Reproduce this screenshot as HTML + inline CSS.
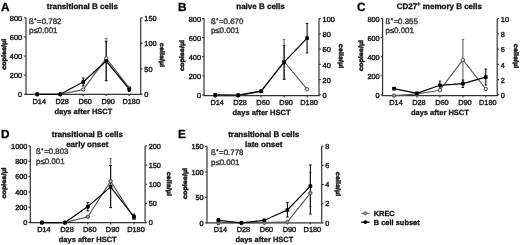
<!DOCTYPE html>
<html><head><meta charset="utf-8"><style>
html,body{margin:0;padding:0;background:#fff;}
body{width:520px;height:245px;overflow:hidden;}
svg{display:block;font-family:"Liberation Sans", sans-serif;filter:blur(0.5px);text-rendering:geometricPrecision;}
</style></head><body>
<svg width="520" height="245" viewBox="0 0 520 245">
<rect width="520" height="245" fill="#fff"/>
<text x="1.0" y="10.5" font-size="11.8" font-weight="bold" text-anchor="start" fill="#000" stroke="#000" stroke-width="0.3" >A</text>
<text x="82.3" y="9.25" font-size="8.0" font-weight="bold" text-anchor="middle" fill="#111" stroke="#111" stroke-width="0.3" >transitional B cells</text>
<text x="29.0" y="24.2" font-size="7.9" font-weight="normal" text-anchor="start" fill="#383838" stroke="#383838" stroke-width="0.4" >ß<tspan font-size="5.5" dx="0.4" dy="-2.3">*</tspan><tspan dx="0.7" dy="2.3">=0.782</tspan></text>
<text x="29.0" y="32.8" font-size="7.9" font-weight="normal" text-anchor="start" fill="#383838" stroke="#383838" stroke-width="0.4" >p≤0.001</text>
<line x1="26.0" y1="17.8" x2="26.0" y2="94.3" stroke="#333333" stroke-width="1.2"/>
<line x1="24.2" y1="94.3" x2="26.0" y2="94.3" stroke="#333333" stroke-width="1.2"/>
<text x="22.1" y="97.0" font-size="7.35" font-weight="normal" text-anchor="end" fill="#1a1a1a" stroke="#1a1a1a" stroke-width="0.4" >0</text>
<line x1="24.2" y1="75.17" x2="26.0" y2="75.17" stroke="#333333" stroke-width="1.2"/>
<text x="22.1" y="77.87" font-size="7.35" font-weight="normal" text-anchor="end" fill="#1a1a1a" stroke="#1a1a1a" stroke-width="0.4" >200</text>
<line x1="24.2" y1="56.05" x2="26.0" y2="56.05" stroke="#333333" stroke-width="1.2"/>
<text x="22.1" y="58.75" font-size="7.35" font-weight="normal" text-anchor="end" fill="#1a1a1a" stroke="#1a1a1a" stroke-width="0.4" >400</text>
<line x1="24.2" y1="36.92" x2="26.0" y2="36.92" stroke="#333333" stroke-width="1.2"/>
<text x="22.1" y="39.620000000000005" font-size="7.35" font-weight="normal" text-anchor="end" fill="#1a1a1a" stroke="#1a1a1a" stroke-width="0.4" >600</text>
<line x1="24.2" y1="17.8" x2="26.0" y2="17.8" stroke="#333333" stroke-width="1.2"/>
<text x="22.1" y="20.5" font-size="7.35" font-weight="normal" text-anchor="end" fill="#1a1a1a" stroke="#1a1a1a" stroke-width="0.4" >800</text>
<line x1="140.7" y1="17.8" x2="140.7" y2="94.3" stroke="#333333" stroke-width="1.2"/>
<line x1="140.7" y1="94.3" x2="142.5" y2="94.3" stroke="#333333" stroke-width="1.2"/>
<text x="144.29999999999998" y="97.0" font-size="7.35" font-weight="normal" text-anchor="start" fill="#1a1a1a" stroke="#1a1a1a" stroke-width="0.4" >0</text>
<line x1="140.7" y1="68.8" x2="142.5" y2="68.8" stroke="#333333" stroke-width="1.2"/>
<text x="144.29999999999998" y="71.5" font-size="7.35" font-weight="normal" text-anchor="start" fill="#1a1a1a" stroke="#1a1a1a" stroke-width="0.4" >50</text>
<line x1="140.7" y1="43.3" x2="142.5" y2="43.3" stroke="#333333" stroke-width="1.2"/>
<text x="144.29999999999998" y="46.0" font-size="7.35" font-weight="normal" text-anchor="start" fill="#1a1a1a" stroke="#1a1a1a" stroke-width="0.4" >100</text>
<line x1="140.7" y1="17.8" x2="142.5" y2="17.8" stroke="#333333" stroke-width="1.2"/>
<text x="144.29999999999998" y="20.5" font-size="7.35" font-weight="normal" text-anchor="start" fill="#1a1a1a" stroke="#1a1a1a" stroke-width="0.4" >150</text>
<line x1="25.4" y1="94.3" x2="141.29999999999998" y2="94.3" stroke="#333333" stroke-width="1.2"/>
<line x1="37.3" y1="94.3" x2="37.3" y2="96.1" stroke="#333333" stroke-width="1.2"/>
<text x="39.3" y="103.6" font-size="7.35" font-weight="normal" text-anchor="middle" fill="#1a1a1a" stroke="#1a1a1a" stroke-width="0.4" >D14</text>
<line x1="60.2" y1="94.3" x2="60.2" y2="96.1" stroke="#333333" stroke-width="1.2"/>
<text x="62.2" y="103.6" font-size="7.35" font-weight="normal" text-anchor="middle" fill="#1a1a1a" stroke="#1a1a1a" stroke-width="0.4" >D28</text>
<line x1="83.2" y1="94.3" x2="83.2" y2="96.1" stroke="#333333" stroke-width="1.2"/>
<text x="85.2" y="103.6" font-size="7.35" font-weight="normal" text-anchor="middle" fill="#1a1a1a" stroke="#1a1a1a" stroke-width="0.4" >D60</text>
<line x1="106.2" y1="94.3" x2="106.2" y2="96.1" stroke="#333333" stroke-width="1.2"/>
<text x="108.2" y="103.6" font-size="7.35" font-weight="normal" text-anchor="middle" fill="#1a1a1a" stroke="#1a1a1a" stroke-width="0.4" >D90</text>
<line x1="129.2" y1="94.3" x2="129.2" y2="96.1" stroke="#333333" stroke-width="1.2"/>
<text x="131.2" y="103.6" font-size="7.35" font-weight="normal" text-anchor="middle" fill="#1a1a1a" stroke="#1a1a1a" stroke-width="0.4" >D180</text>
<text x="83.35" y="113.5" font-size="7.5" font-weight="bold" text-anchor="middle" fill="#1a1a1a" stroke="#1a1a1a" stroke-width="0.3" >days after HSCT</text>
<text x="0" y="0" font-size="6.3" font-weight="bold" text-anchor="middle" fill="#1a1a1a" stroke="#1a1a1a" stroke-width="0.5" transform="translate(5.7,54.3) rotate(-90) scale(1.15,1)">copies/µl</text>
<text x="0" y="0" font-size="6.3" font-weight="bold" text-anchor="middle" fill="#1a1a1a" stroke="#1a1a1a" stroke-width="0.5" transform="translate(160.39999999999998,55) rotate(90) scale(1.15,1)">cells/µl</text>
<polyline points="37.3,94.3 60.2,94.3 83.2,89.6 106.2,58.4 129.2,87.8" fill="none" stroke="#555555" stroke-width="1.1" stroke-linejoin="round"/>
<line x1="106.2" y1="38.4" x2="106.2" y2="80.7" stroke="#707070" stroke-width="1.2"/>
<line x1="104.9" y1="38.4" x2="107.5" y2="38.4" stroke="#707070" stroke-width="1.0"/>
<line x1="104.9" y1="80.7" x2="107.5" y2="80.7" stroke="#707070" stroke-width="1.0"/>
<polyline points="37.3,94.3 60.2,94.3 83.2,82 106.2,61 129.2,89.2" fill="none" stroke="#000" stroke-width="1.2" stroke-linejoin="round"/>
<line x1="83.2" y1="78" x2="83.2" y2="86" stroke="#111" stroke-width="1.1"/>
<line x1="81.9" y1="78" x2="84.5" y2="78" stroke="#111" stroke-width="1.0"/>
<line x1="81.9" y1="86" x2="84.5" y2="86" stroke="#111" stroke-width="1.0"/>
<line x1="106.2" y1="41.4" x2="106.2" y2="80.7" stroke="#111" stroke-width="1.1"/>
<line x1="104.9" y1="41.4" x2="107.5" y2="41.4" stroke="#111" stroke-width="1.0"/>
<line x1="104.9" y1="80.7" x2="107.5" y2="80.7" stroke="#111" stroke-width="1.0"/>
<line x1="129.2" y1="87" x2="129.2" y2="91.5" stroke="#111" stroke-width="1.1"/>
<line x1="127.89999999999999" y1="87" x2="130.5" y2="87" stroke="#111" stroke-width="1.0"/>
<line x1="127.89999999999999" y1="91.5" x2="130.5" y2="91.5" stroke="#111" stroke-width="1.0"/>
<circle cx="37.3" cy="94.3" r="1.7" fill="#999" stroke="#505050" stroke-width="1.0"/>
<circle cx="60.2" cy="94.3" r="1.7" fill="#999" stroke="#505050" stroke-width="1.0"/>
<circle cx="83.2" cy="89.6" r="1.7" fill="#e0e0e0" stroke="#505050" stroke-width="1.0"/>
<circle cx="106.2" cy="58.4" r="1.7" fill="#e0e0e0" stroke="#505050" stroke-width="1.0"/>
<circle cx="129.2" cy="87.8" r="1.7" fill="#e0e0e0" stroke="#505050" stroke-width="1.0"/>
<rect x="35.449999999999996" y="92.45" width="3.7" height="3.7" rx="0.7" fill="#000"/>
<rect x="58.35" y="92.45" width="3.7" height="3.7" rx="0.7" fill="#000"/>
<rect x="81.35000000000001" y="80.15" width="3.7" height="3.7" rx="0.7" fill="#000"/>
<rect x="104.35000000000001" y="59.15" width="3.7" height="3.7" rx="0.7" fill="#000"/>
<rect x="127.35" y="87.35000000000001" width="3.7" height="3.7" rx="0.7" fill="#000"/>
<text x="178.0" y="10.5" font-size="11.8" font-weight="bold" text-anchor="start" fill="#000" stroke="#000" stroke-width="0.3" >B</text>
<text x="260.5" y="9.4" font-size="8.0" font-weight="bold" text-anchor="middle" fill="#111" stroke="#111" stroke-width="0.3" >naive B cells</text>
<text x="210.9" y="24.400000000000002" font-size="7.9" font-weight="normal" text-anchor="start" fill="#383838" stroke="#383838" stroke-width="0.4" >ß<tspan font-size="5.5" dx="0.4" dy="-2.3">*</tspan><tspan dx="0.7" dy="2.3">=0.670</tspan></text>
<text x="210.9" y="33.0" font-size="7.9" font-weight="normal" text-anchor="start" fill="#383838" stroke="#383838" stroke-width="0.4" >p≤0.001</text>
<line x1="204.0" y1="18.6" x2="204.0" y2="95.7" stroke="#333333" stroke-width="1.2"/>
<line x1="202.2" y1="94.8" x2="204.0" y2="94.8" stroke="#333333" stroke-width="1.2"/>
<text x="201.0" y="98.0" font-size="7.35" font-weight="normal" text-anchor="end" fill="#1a1a1a" stroke="#1a1a1a" stroke-width="0.4" >0</text>
<line x1="202.2" y1="75.75" x2="204.0" y2="75.75" stroke="#333333" stroke-width="1.2"/>
<text x="201.0" y="78.95" font-size="7.35" font-weight="normal" text-anchor="end" fill="#1a1a1a" stroke="#1a1a1a" stroke-width="0.4" >200</text>
<line x1="202.2" y1="56.7" x2="204.0" y2="56.7" stroke="#333333" stroke-width="1.2"/>
<text x="201.0" y="59.900000000000006" font-size="7.35" font-weight="normal" text-anchor="end" fill="#1a1a1a" stroke="#1a1a1a" stroke-width="0.4" >400</text>
<line x1="202.2" y1="37.65" x2="204.0" y2="37.65" stroke="#333333" stroke-width="1.2"/>
<text x="201.0" y="40.85" font-size="7.35" font-weight="normal" text-anchor="end" fill="#1a1a1a" stroke="#1a1a1a" stroke-width="0.4" >600</text>
<line x1="202.2" y1="18.6" x2="204.0" y2="18.6" stroke="#333333" stroke-width="1.2"/>
<text x="201.0" y="21.8" font-size="7.35" font-weight="normal" text-anchor="end" fill="#1a1a1a" stroke="#1a1a1a" stroke-width="0.4" >800</text>
<line x1="319.0" y1="18.6" x2="319.0" y2="95.7" stroke="#333333" stroke-width="1.2"/>
<line x1="319.0" y1="94.8" x2="320.8" y2="94.8" stroke="#333333" stroke-width="1.2"/>
<text x="322.6" y="98.0" font-size="7.35" font-weight="normal" text-anchor="start" fill="#1a1a1a" stroke="#1a1a1a" stroke-width="0.4" >0</text>
<line x1="319.0" y1="79.56" x2="320.8" y2="79.56" stroke="#333333" stroke-width="1.2"/>
<text x="322.6" y="82.76" font-size="7.35" font-weight="normal" text-anchor="start" fill="#1a1a1a" stroke="#1a1a1a" stroke-width="0.4" >20</text>
<line x1="319.0" y1="64.32" x2="320.8" y2="64.32" stroke="#333333" stroke-width="1.2"/>
<text x="322.6" y="67.52" font-size="7.35" font-weight="normal" text-anchor="start" fill="#1a1a1a" stroke="#1a1a1a" stroke-width="0.4" >40</text>
<line x1="319.0" y1="49.08" x2="320.8" y2="49.08" stroke="#333333" stroke-width="1.2"/>
<text x="322.6" y="52.28" font-size="7.35" font-weight="normal" text-anchor="start" fill="#1a1a1a" stroke="#1a1a1a" stroke-width="0.4" >60</text>
<line x1="319.0" y1="33.84" x2="320.8" y2="33.84" stroke="#333333" stroke-width="1.2"/>
<text x="322.6" y="37.040000000000006" font-size="7.35" font-weight="normal" text-anchor="start" fill="#1a1a1a" stroke="#1a1a1a" stroke-width="0.4" >80</text>
<line x1="319.0" y1="18.6" x2="320.8" y2="18.6" stroke="#333333" stroke-width="1.2"/>
<text x="322.6" y="21.8" font-size="7.35" font-weight="normal" text-anchor="start" fill="#1a1a1a" stroke="#1a1a1a" stroke-width="0.4" >100</text>
<line x1="203.4" y1="95.7" x2="319.6" y2="95.7" stroke="#333333" stroke-width="1.2"/>
<line x1="215.2" y1="95.7" x2="215.2" y2="97.5" stroke="#333333" stroke-width="1.2"/>
<text x="217.2" y="105.0" font-size="7.35" font-weight="normal" text-anchor="middle" fill="#1a1a1a" stroke="#1a1a1a" stroke-width="0.4" >D14</text>
<line x1="238.1" y1="95.7" x2="238.1" y2="97.5" stroke="#333333" stroke-width="1.2"/>
<text x="240.1" y="105.0" font-size="7.35" font-weight="normal" text-anchor="middle" fill="#1a1a1a" stroke="#1a1a1a" stroke-width="0.4" >D28</text>
<line x1="261.1" y1="95.7" x2="261.1" y2="97.5" stroke="#333333" stroke-width="1.2"/>
<text x="263.1" y="105.0" font-size="7.35" font-weight="normal" text-anchor="middle" fill="#1a1a1a" stroke="#1a1a1a" stroke-width="0.4" >D60</text>
<line x1="284.1" y1="95.7" x2="284.1" y2="97.5" stroke="#333333" stroke-width="1.2"/>
<text x="286.1" y="105.0" font-size="7.35" font-weight="normal" text-anchor="middle" fill="#1a1a1a" stroke="#1a1a1a" stroke-width="0.4" >D90</text>
<line x1="307.1" y1="95.7" x2="307.1" y2="97.5" stroke="#333333" stroke-width="1.2"/>
<text x="309.1" y="105.0" font-size="7.35" font-weight="normal" text-anchor="middle" fill="#1a1a1a" stroke="#1a1a1a" stroke-width="0.4" >D180</text>
<text x="261.5" y="114.9" font-size="7.5" font-weight="bold" text-anchor="middle" fill="#1a1a1a" stroke="#1a1a1a" stroke-width="0.3" >days after HSCT</text>
<text x="0" y="0" font-size="6.3" font-weight="bold" text-anchor="middle" fill="#1a1a1a" stroke="#1a1a1a" stroke-width="0.5" transform="translate(183.5,55.5) rotate(-90) scale(1.15,1)">copies/µl</text>
<text x="0" y="0" font-size="6.3" font-weight="bold" text-anchor="middle" fill="#1a1a1a" stroke="#1a1a1a" stroke-width="0.5" transform="translate(338.6,56) rotate(90) scale(1.15,1)">cells/µl</text>
<polyline points="215.2,95.6 238.1,95.6 261.1,91.4 284.1,61.5 307.1,89.2" fill="none" stroke="#555555" stroke-width="1.1" stroke-linejoin="round"/>
<line x1="284.1" y1="39.3" x2="284.1" y2="79.3" stroke="#707070" stroke-width="1.2"/>
<line x1="282.8" y1="39.3" x2="285.40000000000003" y2="39.3" stroke="#707070" stroke-width="1.0"/>
<line x1="282.8" y1="79.3" x2="285.40000000000003" y2="79.3" stroke="#707070" stroke-width="1.0"/>
<polyline points="215.2,94.9 238.1,95.2 261.1,91.2 284.1,62.1 307.1,38.1" fill="none" stroke="#000" stroke-width="1.2" stroke-linejoin="round"/>
<line x1="284.1" y1="45.7" x2="284.1" y2="79.3" stroke="#111" stroke-width="1.1"/>
<line x1="282.8" y1="45.7" x2="285.40000000000003" y2="45.7" stroke="#111" stroke-width="1.0"/>
<line x1="282.8" y1="79.3" x2="285.40000000000003" y2="79.3" stroke="#111" stroke-width="1.0"/>
<line x1="307.1" y1="23.4" x2="307.1" y2="53" stroke="#111" stroke-width="1.1"/>
<line x1="305.8" y1="23.4" x2="308.40000000000003" y2="23.4" stroke="#111" stroke-width="1.0"/>
<line x1="305.8" y1="53" x2="308.40000000000003" y2="53" stroke="#111" stroke-width="1.0"/>
<circle cx="215.2" cy="95.6" r="1.7" fill="#999" stroke="#505050" stroke-width="1.0"/>
<circle cx="238.1" cy="95.6" r="1.7" fill="#999" stroke="#505050" stroke-width="1.0"/>
<circle cx="261.1" cy="91.4" r="1.7" fill="#e0e0e0" stroke="#505050" stroke-width="1.0"/>
<circle cx="284.1" cy="61.5" r="1.7" fill="#e0e0e0" stroke="#505050" stroke-width="1.0"/>
<circle cx="307.1" cy="89.2" r="1.7" fill="#e0e0e0" stroke="#505050" stroke-width="1.0"/>
<rect x="213.35" y="93.05000000000001" width="3.7" height="3.7" rx="0.7" fill="#000"/>
<rect x="236.25" y="93.35000000000001" width="3.7" height="3.7" rx="0.7" fill="#000"/>
<rect x="259.25" y="89.35000000000001" width="3.7" height="3.7" rx="0.7" fill="#000"/>
<rect x="282.25" y="60.25" width="3.7" height="3.7" rx="0.7" fill="#000"/>
<rect x="305.25" y="36.25" width="3.7" height="3.7" rx="0.7" fill="#000"/>
<text x="357.0" y="10.5" font-size="11.8" font-weight="bold" text-anchor="start" fill="#000" stroke="#000" stroke-width="0.3" >C</text>
<text x="439.3" y="9.25" font-size="8.0" font-weight="bold" text-anchor="middle" fill="#111" stroke="#111" stroke-width="0.3" >CD27<tspan font-size="6" dy="-3.2">+</tspan><tspan dy="3.2"> memory B cells</tspan></text>
<text x="385.40000000000003" y="24.2" font-size="7.9" font-weight="normal" text-anchor="start" fill="#383838" stroke="#383838" stroke-width="0.4" >ß<tspan font-size="5.5" dx="0.4" dy="-2.3">*</tspan><tspan dx="0.7" dy="2.3">=0.355</tspan></text>
<text x="385.40000000000003" y="32.8" font-size="7.9" font-weight="normal" text-anchor="start" fill="#383838" stroke="#383838" stroke-width="0.4" >p≤0.001</text>
<line x1="382.6" y1="18.6" x2="382.6" y2="95.7" stroke="#333333" stroke-width="1.2"/>
<line x1="380.8" y1="94.9" x2="382.6" y2="94.9" stroke="#333333" stroke-width="1.2"/>
<text x="379.70000000000005" y="98.10000000000001" font-size="7.35" font-weight="normal" text-anchor="end" fill="#1a1a1a" stroke="#1a1a1a" stroke-width="0.4" >0</text>
<line x1="380.8" y1="75.83" x2="382.6" y2="75.83" stroke="#333333" stroke-width="1.2"/>
<text x="379.70000000000005" y="79.03" font-size="7.35" font-weight="normal" text-anchor="end" fill="#1a1a1a" stroke="#1a1a1a" stroke-width="0.4" >200</text>
<line x1="380.8" y1="56.75" x2="382.6" y2="56.75" stroke="#333333" stroke-width="1.2"/>
<text x="379.70000000000005" y="59.95" font-size="7.35" font-weight="normal" text-anchor="end" fill="#1a1a1a" stroke="#1a1a1a" stroke-width="0.4" >400</text>
<line x1="380.8" y1="37.67" x2="382.6" y2="37.67" stroke="#333333" stroke-width="1.2"/>
<text x="379.70000000000005" y="40.870000000000005" font-size="7.35" font-weight="normal" text-anchor="end" fill="#1a1a1a" stroke="#1a1a1a" stroke-width="0.4" >600</text>
<line x1="380.8" y1="18.6" x2="382.6" y2="18.6" stroke="#333333" stroke-width="1.2"/>
<text x="379.70000000000005" y="21.8" font-size="7.35" font-weight="normal" text-anchor="end" fill="#1a1a1a" stroke="#1a1a1a" stroke-width="0.4" >800</text>
<line x1="497.2" y1="18.6" x2="497.2" y2="95.7" stroke="#333333" stroke-width="1.2"/>
<line x1="497.2" y1="94.9" x2="499.0" y2="94.9" stroke="#333333" stroke-width="1.2"/>
<text x="500.8" y="98.10000000000001" font-size="7.35" font-weight="normal" text-anchor="start" fill="#1a1a1a" stroke="#1a1a1a" stroke-width="0.4" >0</text>
<line x1="497.2" y1="79.64" x2="499.0" y2="79.64" stroke="#333333" stroke-width="1.2"/>
<text x="500.8" y="82.84" font-size="7.35" font-weight="normal" text-anchor="start" fill="#1a1a1a" stroke="#1a1a1a" stroke-width="0.4" >2</text>
<line x1="497.2" y1="64.38" x2="499.0" y2="64.38" stroke="#333333" stroke-width="1.2"/>
<text x="500.8" y="67.58" font-size="7.35" font-weight="normal" text-anchor="start" fill="#1a1a1a" stroke="#1a1a1a" stroke-width="0.4" >4</text>
<line x1="497.2" y1="49.12" x2="499.0" y2="49.12" stroke="#333333" stroke-width="1.2"/>
<text x="500.8" y="52.32" font-size="7.35" font-weight="normal" text-anchor="start" fill="#1a1a1a" stroke="#1a1a1a" stroke-width="0.4" >6</text>
<line x1="497.2" y1="33.86" x2="499.0" y2="33.86" stroke="#333333" stroke-width="1.2"/>
<text x="500.8" y="37.06" font-size="7.35" font-weight="normal" text-anchor="start" fill="#1a1a1a" stroke="#1a1a1a" stroke-width="0.4" >8</text>
<line x1="497.2" y1="18.6" x2="499.0" y2="18.6" stroke="#333333" stroke-width="1.2"/>
<text x="500.8" y="21.8" font-size="7.35" font-weight="normal" text-anchor="start" fill="#1a1a1a" stroke="#1a1a1a" stroke-width="0.4" >10</text>
<line x1="382.0" y1="95.7" x2="497.8" y2="95.7" stroke="#333333" stroke-width="1.2"/>
<line x1="394.0" y1="95.7" x2="394.0" y2="97.5" stroke="#333333" stroke-width="1.2"/>
<text x="396.0" y="105.0" font-size="7.35" font-weight="normal" text-anchor="middle" fill="#1a1a1a" stroke="#1a1a1a" stroke-width="0.4" >D14</text>
<line x1="416.9" y1="95.7" x2="416.9" y2="97.5" stroke="#333333" stroke-width="1.2"/>
<text x="418.9" y="105.0" font-size="7.35" font-weight="normal" text-anchor="middle" fill="#1a1a1a" stroke="#1a1a1a" stroke-width="0.4" >D28</text>
<line x1="439.9" y1="95.7" x2="439.9" y2="97.5" stroke="#333333" stroke-width="1.2"/>
<text x="441.9" y="105.0" font-size="7.35" font-weight="normal" text-anchor="middle" fill="#1a1a1a" stroke="#1a1a1a" stroke-width="0.4" >D60</text>
<line x1="462.9" y1="95.7" x2="462.9" y2="97.5" stroke="#333333" stroke-width="1.2"/>
<text x="464.9" y="105.0" font-size="7.35" font-weight="normal" text-anchor="middle" fill="#1a1a1a" stroke="#1a1a1a" stroke-width="0.4" >D90</text>
<line x1="485.8" y1="95.7" x2="485.8" y2="97.5" stroke="#333333" stroke-width="1.2"/>
<text x="487.8" y="105.0" font-size="7.35" font-weight="normal" text-anchor="middle" fill="#1a1a1a" stroke="#1a1a1a" stroke-width="0.4" >D180</text>
<text x="439.9" y="114.9" font-size="7.5" font-weight="bold" text-anchor="middle" fill="#1a1a1a" stroke="#1a1a1a" stroke-width="0.3" >days after HSCT</text>
<text x="0" y="0" font-size="6.3" font-weight="bold" text-anchor="middle" fill="#1a1a1a" stroke="#1a1a1a" stroke-width="0.5" transform="translate(362.5,55.5) rotate(-90) scale(1.15,1)">copies/µl</text>
<text x="0" y="0" font-size="6.3" font-weight="bold" text-anchor="middle" fill="#1a1a1a" stroke="#1a1a1a" stroke-width="0.5" transform="translate(514.3000000000001,56) rotate(90) scale(1.15,1)">cells/µl</text>
<polyline points="394.0,95.6 416.9,94.0 439.9,90.2 462.9,59.9 485.8,89.0" fill="none" stroke="#555555" stroke-width="1.1" stroke-linejoin="round"/>
<line x1="462.9" y1="39.3" x2="462.9" y2="84" stroke="#707070" stroke-width="1.2"/>
<line x1="461.59999999999997" y1="39.3" x2="464.2" y2="39.3" stroke="#707070" stroke-width="1.0"/>
<line x1="461.59999999999997" y1="84" x2="464.2" y2="84" stroke="#707070" stroke-width="1.0"/>
<polyline points="394.0,88.7 416.9,93.4 439.9,85.3 462.9,83.7 485.8,77.1" fill="none" stroke="#000" stroke-width="1.2" stroke-linejoin="round"/>
<line x1="439.9" y1="81.2" x2="439.9" y2="89.5" stroke="#111" stroke-width="1.1"/>
<line x1="438.59999999999997" y1="81.2" x2="441.2" y2="81.2" stroke="#111" stroke-width="1.0"/>
<line x1="438.59999999999997" y1="89.5" x2="441.2" y2="89.5" stroke="#111" stroke-width="1.0"/>
<line x1="462.9" y1="80" x2="462.9" y2="87.5" stroke="#111" stroke-width="1.1"/>
<line x1="461.59999999999997" y1="80" x2="464.2" y2="80" stroke="#111" stroke-width="1.0"/>
<line x1="461.59999999999997" y1="87.5" x2="464.2" y2="87.5" stroke="#111" stroke-width="1.0"/>
<line x1="485.8" y1="69" x2="485.8" y2="85" stroke="#111" stroke-width="1.1"/>
<line x1="484.5" y1="69" x2="487.1" y2="69" stroke="#111" stroke-width="1.0"/>
<line x1="484.5" y1="85" x2="487.1" y2="85" stroke="#111" stroke-width="1.0"/>
<circle cx="394.0" cy="95.6" r="1.7" fill="#999" stroke="#505050" stroke-width="1.0"/>
<circle cx="416.9" cy="94.0" r="1.7" fill="#e0e0e0" stroke="#505050" stroke-width="1.0"/>
<circle cx="439.9" cy="90.2" r="1.7" fill="#e0e0e0" stroke="#505050" stroke-width="1.0"/>
<circle cx="462.9" cy="59.9" r="1.7" fill="#e0e0e0" stroke="#505050" stroke-width="1.0"/>
<circle cx="485.8" cy="89.0" r="1.7" fill="#e0e0e0" stroke="#505050" stroke-width="1.0"/>
<rect x="392.15" y="86.85000000000001" width="3.7" height="3.7" rx="0.7" fill="#000"/>
<rect x="415.04999999999995" y="91.55000000000001" width="3.7" height="3.7" rx="0.7" fill="#000"/>
<rect x="438.04999999999995" y="83.45" width="3.7" height="3.7" rx="0.7" fill="#000"/>
<rect x="461.04999999999995" y="81.85000000000001" width="3.7" height="3.7" rx="0.7" fill="#000"/>
<rect x="483.95" y="75.25" width="3.7" height="3.7" rx="0.7" fill="#000"/>
<text x="1.0" y="137.8" font-size="11.8" font-weight="bold" text-anchor="start" fill="#000" stroke="#000" stroke-width="0.3" >D</text>
<text x="87.3" y="136.5" font-size="8.0" font-weight="bold" text-anchor="middle" fill="#111" stroke="#111" stroke-width="0.3" >transitional B cells</text>
<text x="87.3" y="146.6" font-size="8.0" font-weight="bold" text-anchor="middle" fill="#111" stroke="#111" stroke-width="0.3" >early onset</text>
<text x="36.1" y="154.20000000000002" font-size="7.9" font-weight="normal" text-anchor="start" fill="#383838" stroke="#383838" stroke-width="0.4" >ß<tspan font-size="5.5" dx="0.4" dy="-2.3">*</tspan><tspan dx="0.7" dy="2.3">=0.803</tspan></text>
<text x="36.1" y="164.20000000000002" font-size="7.9" font-weight="normal" text-anchor="start" fill="#383838" stroke="#383838" stroke-width="0.4" >p≤0.001</text>
<line x1="30.3" y1="145.9" x2="30.3" y2="222.6" stroke="#333333" stroke-width="1.2"/>
<line x1="28.5" y1="222.6" x2="30.3" y2="222.6" stroke="#333333" stroke-width="1.2"/>
<text x="27.400000000000002" y="225.29999999999998" font-size="7.35" font-weight="normal" text-anchor="end" fill="#1a1a1a" stroke="#1a1a1a" stroke-width="0.4" >0</text>
<line x1="28.5" y1="207.26" x2="30.3" y2="207.26" stroke="#333333" stroke-width="1.2"/>
<text x="27.400000000000002" y="209.95999999999998" font-size="7.35" font-weight="normal" text-anchor="end" fill="#1a1a1a" stroke="#1a1a1a" stroke-width="0.4" >200</text>
<line x1="28.5" y1="191.92" x2="30.3" y2="191.92" stroke="#333333" stroke-width="1.2"/>
<text x="27.400000000000002" y="194.61999999999998" font-size="7.35" font-weight="normal" text-anchor="end" fill="#1a1a1a" stroke="#1a1a1a" stroke-width="0.4" >400</text>
<line x1="28.5" y1="176.58" x2="30.3" y2="176.58" stroke="#333333" stroke-width="1.2"/>
<text x="27.400000000000002" y="179.28" font-size="7.35" font-weight="normal" text-anchor="end" fill="#1a1a1a" stroke="#1a1a1a" stroke-width="0.4" >600</text>
<line x1="28.5" y1="161.24" x2="30.3" y2="161.24" stroke="#333333" stroke-width="1.2"/>
<text x="27.400000000000002" y="163.94" font-size="7.35" font-weight="normal" text-anchor="end" fill="#1a1a1a" stroke="#1a1a1a" stroke-width="0.4" >800</text>
<line x1="28.5" y1="145.9" x2="30.3" y2="145.9" stroke="#333333" stroke-width="1.2"/>
<text x="27.400000000000002" y="148.6" font-size="7.35" font-weight="normal" text-anchor="end" fill="#1a1a1a" stroke="#1a1a1a" stroke-width="0.4" >1000</text>
<line x1="145.1" y1="145.9" x2="145.1" y2="222.6" stroke="#333333" stroke-width="1.2"/>
<line x1="145.1" y1="222.6" x2="146.9" y2="222.6" stroke="#333333" stroke-width="1.2"/>
<text x="148.7" y="225.29999999999998" font-size="7.35" font-weight="normal" text-anchor="start" fill="#1a1a1a" stroke="#1a1a1a" stroke-width="0.4" >0</text>
<line x1="145.1" y1="203.43" x2="146.9" y2="203.43" stroke="#333333" stroke-width="1.2"/>
<text x="148.7" y="206.13" font-size="7.35" font-weight="normal" text-anchor="start" fill="#1a1a1a" stroke="#1a1a1a" stroke-width="0.4" >50</text>
<line x1="145.1" y1="184.25" x2="146.9" y2="184.25" stroke="#333333" stroke-width="1.2"/>
<text x="148.7" y="186.95" font-size="7.35" font-weight="normal" text-anchor="start" fill="#1a1a1a" stroke="#1a1a1a" stroke-width="0.4" >100</text>
<line x1="145.1" y1="165.07" x2="146.9" y2="165.07" stroke="#333333" stroke-width="1.2"/>
<text x="148.7" y="167.76999999999998" font-size="7.35" font-weight="normal" text-anchor="start" fill="#1a1a1a" stroke="#1a1a1a" stroke-width="0.4" >150</text>
<line x1="145.1" y1="145.9" x2="146.9" y2="145.9" stroke="#333333" stroke-width="1.2"/>
<text x="148.7" y="148.6" font-size="7.35" font-weight="normal" text-anchor="start" fill="#1a1a1a" stroke="#1a1a1a" stroke-width="0.4" >200</text>
<line x1="29.7" y1="222.6" x2="145.7" y2="222.6" stroke="#333333" stroke-width="1.2"/>
<line x1="41.9" y1="222.6" x2="41.9" y2="224.4" stroke="#333333" stroke-width="1.2"/>
<text x="43.9" y="231.9" font-size="7.35" font-weight="normal" text-anchor="middle" fill="#1a1a1a" stroke="#1a1a1a" stroke-width="0.4" >D14</text>
<line x1="65.0" y1="222.6" x2="65.0" y2="224.4" stroke="#333333" stroke-width="1.2"/>
<text x="67.0" y="231.9" font-size="7.35" font-weight="normal" text-anchor="middle" fill="#1a1a1a" stroke="#1a1a1a" stroke-width="0.4" >D28</text>
<line x1="87.8" y1="222.6" x2="87.8" y2="224.4" stroke="#333333" stroke-width="1.2"/>
<text x="89.8" y="231.9" font-size="7.35" font-weight="normal" text-anchor="middle" fill="#1a1a1a" stroke="#1a1a1a" stroke-width="0.4" >D60</text>
<line x1="110.6" y1="222.6" x2="110.6" y2="224.4" stroke="#333333" stroke-width="1.2"/>
<text x="112.6" y="231.9" font-size="7.35" font-weight="normal" text-anchor="middle" fill="#1a1a1a" stroke="#1a1a1a" stroke-width="0.4" >D90</text>
<line x1="134.0" y1="222.6" x2="134.0" y2="224.4" stroke="#333333" stroke-width="1.2"/>
<text x="136.0" y="231.9" font-size="7.35" font-weight="normal" text-anchor="middle" fill="#1a1a1a" stroke="#1a1a1a" stroke-width="0.4" >D180</text>
<text x="87.7" y="241.79999999999998" font-size="7.5" font-weight="bold" text-anchor="middle" fill="#1a1a1a" stroke="#1a1a1a" stroke-width="0.3" >days after HSCT</text>
<text x="0" y="0" font-size="6.3" font-weight="bold" text-anchor="middle" fill="#1a1a1a" stroke="#1a1a1a" stroke-width="0.5" transform="translate(5.7,183) rotate(-90) scale(1.15,1)">copies/µl</text>
<text x="0" y="0" font-size="6.3" font-weight="bold" text-anchor="middle" fill="#1a1a1a" stroke="#1a1a1a" stroke-width="0.5" transform="translate(166.79999999999998,183.8) rotate(90) scale(1.15,1)">cells/µl</text>
<polyline points="41.9,222.6 65.0,222.6 87.8,216.8 110.6,181.1 134.0,218" fill="none" stroke="#555555" stroke-width="1.1" stroke-linejoin="round"/>
<line x1="110.6" y1="158.6" x2="110.6" y2="207.6" stroke="#707070" stroke-width="1.2"/>
<line x1="109.3" y1="158.6" x2="111.89999999999999" y2="158.6" stroke="#707070" stroke-width="1.0"/>
<line x1="109.3" y1="207.6" x2="111.89999999999999" y2="207.6" stroke="#707070" stroke-width="1.0"/>
<polyline points="41.9,222.6 65.0,222.6 87.8,206.6 110.6,186.9 134.0,216.8" fill="none" stroke="#000" stroke-width="1.2" stroke-linejoin="round"/>
<line x1="87.8" y1="202.6" x2="87.8" y2="210.9" stroke="#111" stroke-width="1.1"/>
<line x1="86.5" y1="202.6" x2="89.1" y2="202.6" stroke="#111" stroke-width="1.0"/>
<line x1="86.5" y1="210.9" x2="89.1" y2="210.9" stroke="#111" stroke-width="1.0"/>
<line x1="110.6" y1="165.5" x2="110.6" y2="207.6" stroke="#111" stroke-width="1.1"/>
<line x1="109.3" y1="165.5" x2="111.89999999999999" y2="165.5" stroke="#111" stroke-width="1.0"/>
<line x1="109.3" y1="207.6" x2="111.89999999999999" y2="207.6" stroke="#111" stroke-width="1.0"/>
<line x1="134.0" y1="214" x2="134.0" y2="219.5" stroke="#111" stroke-width="1.1"/>
<line x1="132.7" y1="214" x2="135.3" y2="214" stroke="#111" stroke-width="1.0"/>
<line x1="132.7" y1="219.5" x2="135.3" y2="219.5" stroke="#111" stroke-width="1.0"/>
<circle cx="41.9" cy="222.6" r="1.7" fill="#999" stroke="#505050" stroke-width="1.0"/>
<circle cx="65.0" cy="222.6" r="1.7" fill="#999" stroke="#505050" stroke-width="1.0"/>
<circle cx="87.8" cy="216.8" r="1.7" fill="#999" stroke="#505050" stroke-width="1.0"/>
<circle cx="110.6" cy="181.1" r="1.7" fill="#999" stroke="#505050" stroke-width="1.0"/>
<circle cx="134.0" cy="218" r="1.7" fill="#999" stroke="#505050" stroke-width="1.0"/>
<rect x="40.05" y="220.75" width="3.7" height="3.7" rx="0.7" fill="#000"/>
<rect x="63.15" y="220.75" width="3.7" height="3.7" rx="0.7" fill="#000"/>
<rect x="85.95" y="204.75" width="3.7" height="3.7" rx="0.7" fill="#000"/>
<rect x="108.75" y="185.05" width="3.7" height="3.7" rx="0.7" fill="#000"/>
<rect x="132.15" y="214.95000000000002" width="3.7" height="3.7" rx="0.7" fill="#000"/>
<text x="178.0" y="137.8" font-size="11.8" font-weight="bold" text-anchor="start" fill="#000" stroke="#000" stroke-width="0.3" >E</text>
<text x="263.7" y="137.0" font-size="8.0" font-weight="bold" text-anchor="middle" fill="#111" stroke="#111" stroke-width="0.3" >transitional B cells</text>
<text x="263.7" y="147.1" font-size="8.0" font-weight="bold" text-anchor="middle" fill="#111" stroke="#111" stroke-width="0.3" >late onset</text>
<text x="211.0" y="155.00000000000003" font-size="7.9" font-weight="normal" text-anchor="start" fill="#383838" stroke="#383838" stroke-width="0.4" >ß<tspan font-size="5.5" dx="0.4" dy="-2.3">*</tspan><tspan dx="0.7" dy="2.3">=0.778</tspan></text>
<text x="211.0" y="164.60000000000002" font-size="7.9" font-weight="normal" text-anchor="start" fill="#383838" stroke="#383838" stroke-width="0.4" >p≤0.001</text>
<line x1="207.0" y1="146.3" x2="207.0" y2="222.8" stroke="#333333" stroke-width="1.2"/>
<line x1="205.2" y1="222.8" x2="207.0" y2="222.8" stroke="#333333" stroke-width="1.2"/>
<text x="203.7" y="225.5" font-size="7.35" font-weight="normal" text-anchor="end" fill="#1a1a1a" stroke="#1a1a1a" stroke-width="0.4" >0</text>
<line x1="205.2" y1="197.3" x2="207.0" y2="197.3" stroke="#333333" stroke-width="1.2"/>
<text x="203.7" y="200.0" font-size="7.35" font-weight="normal" text-anchor="end" fill="#1a1a1a" stroke="#1a1a1a" stroke-width="0.4" >50</text>
<line x1="205.2" y1="171.8" x2="207.0" y2="171.8" stroke="#333333" stroke-width="1.2"/>
<text x="203.7" y="174.5" font-size="7.35" font-weight="normal" text-anchor="end" fill="#1a1a1a" stroke="#1a1a1a" stroke-width="0.4" >100</text>
<line x1="205.2" y1="146.3" x2="207.0" y2="146.3" stroke="#333333" stroke-width="1.2"/>
<text x="203.7" y="149.0" font-size="7.35" font-weight="normal" text-anchor="end" fill="#1a1a1a" stroke="#1a1a1a" stroke-width="0.4" >150</text>
<line x1="321.7" y1="146.3" x2="321.7" y2="222.8" stroke="#333333" stroke-width="1.2"/>
<line x1="321.7" y1="222.8" x2="323.5" y2="222.8" stroke="#333333" stroke-width="1.2"/>
<text x="325.3" y="225.5" font-size="7.35" font-weight="normal" text-anchor="start" fill="#1a1a1a" stroke="#1a1a1a" stroke-width="0.4" >0</text>
<line x1="321.7" y1="203.68" x2="323.5" y2="203.68" stroke="#333333" stroke-width="1.2"/>
<text x="325.3" y="206.38" font-size="7.35" font-weight="normal" text-anchor="start" fill="#1a1a1a" stroke="#1a1a1a" stroke-width="0.4" >2</text>
<line x1="321.7" y1="184.55" x2="323.5" y2="184.55" stroke="#333333" stroke-width="1.2"/>
<text x="325.3" y="187.25" font-size="7.35" font-weight="normal" text-anchor="start" fill="#1a1a1a" stroke="#1a1a1a" stroke-width="0.4" >4</text>
<line x1="321.7" y1="165.43" x2="323.5" y2="165.43" stroke="#333333" stroke-width="1.2"/>
<text x="325.3" y="168.13" font-size="7.35" font-weight="normal" text-anchor="start" fill="#1a1a1a" stroke="#1a1a1a" stroke-width="0.4" >6</text>
<line x1="321.7" y1="146.3" x2="323.5" y2="146.3" stroke="#333333" stroke-width="1.2"/>
<text x="325.3" y="149.0" font-size="7.35" font-weight="normal" text-anchor="start" fill="#1a1a1a" stroke="#1a1a1a" stroke-width="0.4" >8</text>
<line x1="206.4" y1="222.8" x2="322.3" y2="222.8" stroke="#333333" stroke-width="1.2"/>
<line x1="218.4" y1="222.8" x2="218.4" y2="224.60000000000002" stroke="#333333" stroke-width="1.2"/>
<text x="220.4" y="232.10000000000002" font-size="7.35" font-weight="normal" text-anchor="middle" fill="#1a1a1a" stroke="#1a1a1a" stroke-width="0.4" >D14</text>
<line x1="241.4" y1="222.8" x2="241.4" y2="224.60000000000002" stroke="#333333" stroke-width="1.2"/>
<text x="243.4" y="232.10000000000002" font-size="7.35" font-weight="normal" text-anchor="middle" fill="#1a1a1a" stroke="#1a1a1a" stroke-width="0.4" >D28</text>
<line x1="264.4" y1="222.8" x2="264.4" y2="224.60000000000002" stroke="#333333" stroke-width="1.2"/>
<text x="266.4" y="232.10000000000002" font-size="7.35" font-weight="normal" text-anchor="middle" fill="#1a1a1a" stroke="#1a1a1a" stroke-width="0.4" >D60</text>
<line x1="287.4" y1="222.8" x2="287.4" y2="224.60000000000002" stroke="#333333" stroke-width="1.2"/>
<text x="289.4" y="232.10000000000002" font-size="7.35" font-weight="normal" text-anchor="middle" fill="#1a1a1a" stroke="#1a1a1a" stroke-width="0.4" >D90</text>
<line x1="310.4" y1="222.8" x2="310.4" y2="224.60000000000002" stroke="#333333" stroke-width="1.2"/>
<text x="312.4" y="232.10000000000002" font-size="7.35" font-weight="normal" text-anchor="middle" fill="#1a1a1a" stroke="#1a1a1a" stroke-width="0.4" >D180</text>
<text x="264.35" y="242.0" font-size="7.5" font-weight="bold" text-anchor="middle" fill="#1a1a1a" stroke="#1a1a1a" stroke-width="0.3" >days after HSCT</text>
<text x="0" y="0" font-size="6.3" font-weight="bold" text-anchor="middle" fill="#1a1a1a" stroke="#1a1a1a" stroke-width="0.5" transform="translate(187.1,183.5) rotate(-90) scale(1.15,1)">copies/µl</text>
<text x="0" y="0" font-size="6.3" font-weight="bold" text-anchor="middle" fill="#1a1a1a" stroke="#1a1a1a" stroke-width="0.5" transform="translate(335.8,184) rotate(90) scale(1.15,1)">cells/µl</text>
<polyline points="218.4,222.6 241.4,222.8 264.4,222.6 287.4,221.9 310.4,193.1" fill="none" stroke="#555555" stroke-width="1.1" stroke-linejoin="round"/>
<line x1="310.4" y1="172.3" x2="310.4" y2="206.7" stroke="#707070" stroke-width="1.2"/>
<line x1="309.09999999999997" y1="172.3" x2="311.7" y2="172.3" stroke="#707070" stroke-width="1.0"/>
<line x1="309.09999999999997" y1="206.7" x2="311.7" y2="206.7" stroke="#707070" stroke-width="1.0"/>
<polyline points="218.4,220.3 241.4,222.8 264.4,220.3 287.4,210 310.4,186.2" fill="none" stroke="#000" stroke-width="1.2" stroke-linejoin="round"/>
<line x1="218.4" y1="218.5" x2="218.4" y2="224.6" stroke="#111" stroke-width="1.1"/>
<line x1="217.1" y1="218.5" x2="219.70000000000002" y2="218.5" stroke="#111" stroke-width="1.0"/>
<line x1="217.1" y1="224.6" x2="219.70000000000002" y2="224.6" stroke="#111" stroke-width="1.0"/>
<line x1="287.4" y1="202.3" x2="287.4" y2="217" stroke="#111" stroke-width="1.1"/>
<line x1="286.09999999999997" y1="202.3" x2="288.7" y2="202.3" stroke="#111" stroke-width="1.0"/>
<line x1="286.09999999999997" y1="217" x2="288.7" y2="217" stroke="#111" stroke-width="1.0"/>
<line x1="310.4" y1="164.9" x2="310.4" y2="214.1" stroke="#111" stroke-width="1.1"/>
<line x1="309.09999999999997" y1="164.9" x2="311.7" y2="164.9" stroke="#111" stroke-width="1.0"/>
<line x1="309.09999999999997" y1="214.1" x2="311.7" y2="214.1" stroke="#111" stroke-width="1.0"/>
<circle cx="218.4" cy="222.6" r="1.7" fill="#999" stroke="#505050" stroke-width="1.0"/>
<circle cx="241.4" cy="222.8" r="1.7" fill="#999" stroke="#505050" stroke-width="1.0"/>
<circle cx="264.4" cy="222.6" r="1.7" fill="#999" stroke="#505050" stroke-width="1.0"/>
<circle cx="287.4" cy="221.9" r="1.7" fill="#999" stroke="#505050" stroke-width="1.0"/>
<circle cx="310.4" cy="193.1" r="1.7" fill="#999" stroke="#505050" stroke-width="1.0"/>
<rect x="216.55" y="218.45000000000002" width="3.7" height="3.7" rx="0.7" fill="#000"/>
<rect x="239.55" y="220.95000000000002" width="3.7" height="3.7" rx="0.7" fill="#000"/>
<rect x="262.54999999999995" y="218.45000000000002" width="3.7" height="3.7" rx="0.7" fill="#000"/>
<rect x="285.54999999999995" y="208.15" width="3.7" height="3.7" rx="0.7" fill="#000"/>
<rect x="308.54999999999995" y="184.35" width="3.7" height="3.7" rx="0.7" fill="#000"/>
<line x1="361.2" y1="213.3" x2="369.6" y2="213.3" stroke="#555555" stroke-width="0.9"/>
<circle cx="365.4" cy="213.3" r="1.6" fill="#999" stroke="#505050" stroke-width="0.9"/>
<line x1="361.2" y1="222.1" x2="369.6" y2="222.1" stroke="#000" stroke-width="1.3"/>
<circle cx="365.4" cy="222.1" r="1.9" fill="#000"/>
<text x="373.8" y="216.0" font-size="7.35" font-weight="bold" text-anchor="start" fill="#111" stroke="#111" stroke-width="0.3" >KREC</text>
<text x="373.8" y="224.7" font-size="7.45" font-weight="bold" text-anchor="start" fill="#111" stroke="#111" stroke-width="0.3" >B cell subset</text>
</svg>
</body></html>
